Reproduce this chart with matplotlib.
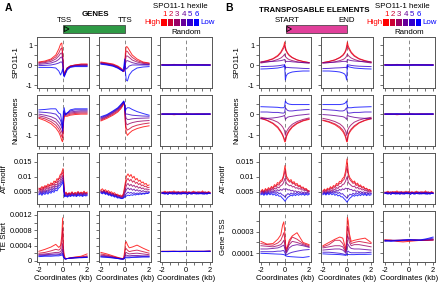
import numpy as np
import matplotlib
matplotlib.use('Agg')
import matplotlib.pyplot as plt
from matplotlib.patches import Rectangle, Polygon

plt.rcParams['font.family'] = ['Liberation Sans', 'DejaVu Sans']

# --- x bins (kb) ---
xs = [-2, -1.5, -1, -0.6, -0.35, -0.2, -0.1, -0.03, 0.03, 0.1, 0.2, 0.35, 0.6, 1, 1.5, 2]
xn = np.linspace(-2, 2, 33)   # finer bins for AT-motif
xr = [-2, -1.5, -1, -0.5, 0, 0.5, 1, 1.5, 2]

# --- A: genes (hexile 1 .. 6) ---
sp_tss = [
    [0.15, 0.2, 0.3, 0.5, 0.8, 1.05, 1.1, 0.6, -0.2, -0.45, -0.3, -0.15, -0.05, 0.0, 0.05, 0.05],
    [0.12, 0.16, 0.25, 0.4, 0.6, 0.8, 0.85, 0.5, -0.2, -0.5, -0.35, -0.15, -0.05, 0.0, 0.03, 0.03],
    [0.08, 0.12, 0.18, 0.3, 0.45, 0.58, 0.6, 0.35, -0.25, -0.5, -0.35, -0.15, -0.07, -0.02, 0.0, 0.0],
    [0.03, 0.06, 0.1, 0.18, 0.28, 0.38, 0.4, 0.25, -0.3, -0.55, -0.4, -0.18, -0.08, -0.04, -0.02, -0.02],
    [-0.03, -0.02, 0.0, 0.05, 0.1, 0.15, 0.15, 0.05, -0.35, -0.55, -0.4, -0.2, -0.1, -0.05, -0.05, -0.05],
    [-0.12, -0.12, -0.12, -0.15, -0.3, -0.5, -0.35, -0.2, -0.45, -0.6, -0.45, -0.25, -0.12, -0.08, -0.08, -0.08],
]
sp_tts = [
    [0.15, 0.1, 0.05, -0.05, -0.15, -0.25, -0.3, -0.2, 0.6, 0.92, 0.9, 0.75, 0.5, 0.3, 0.15, 0.1],
    [0.12, 0.08, 0.02, -0.08, -0.18, -0.28, -0.32, -0.15, 0.4, 0.7, 0.68, 0.55, 0.38, 0.22, 0.12, 0.08],
    [0.1, 0.06, 0.0, -0.1, -0.2, -0.3, -0.33, -0.1, 0.2, 0.45, 0.45, 0.38, 0.25, 0.15, 0.08, 0.05],
    [0.08, 0.04, -0.02, -0.12, -0.22, -0.3, -0.32, 0.0, 0.05, 0.2, 0.22, 0.18, 0.12, 0.06, 0.03, 0.02],
    [0.06, 0.02, -0.04, -0.14, -0.24, -0.3, -0.25, 0.1, -0.1, -0.2, -0.15, -0.05, 0.0, 0.0, 0.0, 0.0],
    [0.04, 0.0, -0.06, -0.16, -0.25, -0.3, -0.1, 0.3, -0.3, -0.75, -0.8, -0.5, -0.3, -0.15, -0.1, -0.08],
]
nu_tss = [
    [-0.2, -0.3, -0.45, -0.65, -0.85, -1.05, -1.25, -1.3, -0.5, -0.1, -0.1, -0.1, -0.05, -0.02, 0.0, 0.0],
    [-0.15, -0.22, -0.35, -0.52, -0.7, -0.88, -1.05, -1.1, -0.4, -0.05, -0.05, -0.05, 0.0, 0.03, 0.05, 0.05],
    [-0.08, -0.14, -0.25, -0.38, -0.55, -0.7, -0.85, -0.9, -0.3, 0.0, -0.02, 0.0, 0.05, 0.08, 0.1, 0.1],
    [0.0, -0.05, -0.12, -0.22, -0.38, -0.5, -0.65, -0.72, -0.2, 0.05, 0.0, 0.05, 0.1, 0.13, 0.15, 0.15],
    [0.1, 0.08, 0.05, 0.0, -0.15, -0.3, -0.5, -0.6, -0.1, 0.15, 0.0, 0.05, 0.15, 0.2, 0.2, 0.2],
    [0.2, 0.22, 0.25, 0.25, 0.05, 0.0, -0.4, -0.8, 0.1, 0.3, -0.05, 0.05, 0.2, 0.25, 0.25, 0.25],
]
nu_tts = [
    [-0.32, -0.2, -0.05, 0.1, 0.25, 0.38, 0.48, 0.45, -0.5, -0.85, -1.0, -0.9, -0.78, -0.68, -0.6, -0.55],
    [-0.28, -0.15, 0.0, 0.15, 0.3, 0.42, 0.52, 0.45, -0.35, -0.65, -0.75, -0.7, -0.6, -0.52, -0.46, -0.42],
    [-0.24, -0.12, 0.05, 0.2, 0.34, 0.45, 0.55, 0.45, -0.2, -0.45, -0.5, -0.45, -0.4, -0.35, -0.32, -0.3],
    [-0.2, -0.08, 0.08, 0.24, 0.38, 0.5, 0.58, 0.45, -0.05, -0.2, -0.25, -0.25, -0.22, -0.2, -0.19, -0.18],
    [-0.16, -0.05, 0.12, 0.27, 0.42, 0.52, 0.6, 0.45, 0.05, 0.0, 0.0, -0.02, -0.05, -0.07, -0.09, -0.1],
    [-0.12, -0.02, 0.15, 0.3, 0.45, 0.55, 0.62, 0.4, 0.15, 0.25, 0.3, 0.3, 0.22, 0.12, 0.03, -0.05],
]
# AT-motif, units of 1e-3
at_tss = [
    [6.2, 5.6, 6.8, 6.0, 7.1, 6.5, 7.6, 6.9, 8.0, 7.4, 8.6, 8.1, 9.4, 9.0, 10.6, 11.2, 12.8,
     4.3, 4.9, 4.1, 4.7, 4.4, 5.0, 4.2, 4.8, 4.5, 5.1, 4.4, 4.9, 4.6, 5.2, 4.5, 4.9],
    [5.8, 6.3, 5.5, 6.6, 6.1, 7.0, 6.4, 7.3, 6.9, 7.8, 7.2, 8.4, 8.0, 9.3, 9.6, 10.8, 11.5,
     4.0, 4.6, 4.2, 4.5, 4.1, 4.8, 4.3, 4.6, 4.2, 4.9, 4.4, 4.7, 4.3, 4.8, 4.5, 4.6],
    [5.2, 5.7, 5.0, 5.9, 5.4, 6.3, 5.8, 6.5, 6.2, 7.0, 6.6, 7.5, 7.3, 8.4, 8.8, 9.9, 10.5,
     3.8, 4.3, 3.9, 4.4, 4.0, 4.5, 4.1, 4.4, 4.0, 4.6, 4.2, 4.5, 4.1, 4.6, 4.3, 4.4],
    [4.8, 5.2, 4.6, 5.4, 4.9, 5.6, 5.2, 6.0, 5.6, 6.4, 6.0, 6.9, 6.6, 7.6, 8.0, 9.0, 9.8,
     3.6, 4.0, 3.7, 4.2, 3.8, 4.3, 3.9, 4.2, 3.8, 4.4, 4.0, 4.3, 3.9, 4.4, 4.1, 4.2],
    [4.3, 4.8, 4.2, 5.0, 4.5, 5.2, 4.7, 5.4, 5.0, 5.8, 5.4, 6.2, 6.0, 7.0, 7.3, 8.2, 9.0,
     3.5, 3.8, 3.4, 3.9, 3.6, 4.0, 3.7, 4.0, 3.6, 4.1, 3.8, 4.0, 3.7, 4.1, 3.8, 4.0],
    [4.0, 4.4, 3.8, 4.5, 4.1, 4.7, 4.2, 4.9, 4.5, 5.2, 4.8, 5.6, 5.3, 6.2, 6.6, 7.4, 8.3,
     3.3, 3.6, 3.2, 3.7, 3.4, 3.8, 3.5, 3.7, 3.4, 3.9, 3.5, 3.8, 3.4, 3.8, 3.6, 3.7],
]
at_tts = [
    [5.6, 6.0, 5.3, 5.7, 5.0, 5.4, 4.7, 5.0, 4.4, 4.7, 4.0, 4.2, 3.7, 3.9, 3.5, 4.5, 7.5,
     10.2, 11.0, 10.1, 10.8, 9.6, 10.2, 9.0, 9.5, 8.5, 8.9, 8.0, 8.3, 7.5, 7.8, 7.0, 7.3],
    [5.4, 5.1, 5.5, 4.9, 5.2, 4.6, 4.9, 4.3, 4.5, 4.0, 4.2, 3.7, 3.8, 3.5, 3.4, 4.0, 6.5,
     8.8, 9.5, 8.6, 9.2, 8.2, 8.7, 7.8, 8.2, 7.4, 7.8, 7.0, 7.3, 6.7, 6.9, 6.3, 6.5],
    [5.2, 4.9, 5.3, 4.7, 5.0, 4.4, 4.6, 4.1, 4.3, 3.8, 4.0, 3.5, 3.6, 3.3, 3.2, 3.6, 5.5,
     7.2, 7.8, 7.0, 7.5, 6.8, 7.2, 6.5, 6.9, 6.2, 6.6, 6.0, 6.3, 5.8, 6.0, 5.6, 5.8],
    [5.0, 4.7, 5.1, 4.5, 4.8, 4.2, 4.4, 3.9, 4.1, 3.6, 3.8, 3.3, 3.4, 3.1, 3.0, 3.3, 4.6,
     5.8, 6.3, 5.7, 6.1, 5.5, 5.9, 5.3, 5.7, 5.2, 5.5, 5.0, 5.4, 5.0, 5.2, 4.9, 5.1],
    [4.8, 4.5, 4.9, 4.3, 4.6, 4.0, 4.2, 3.7, 3.9, 3.4, 3.6, 3.1, 3.2, 2.9, 2.8, 3.0, 3.8,
     4.4, 4.9, 4.5, 4.8, 4.4, 4.7, 4.3, 4.6, 4.4, 4.7, 4.3, 4.6, 4.4, 4.7, 4.5, 4.7],
    [4.6, 4.3, 4.7, 4.1, 4.4, 3.8, 4.0, 3.5, 3.7, 3.2, 3.4, 2.9, 3.0, 2.8, 2.7, 2.9, 3.3,
     3.6, 3.9, 3.7, 4.0, 3.8, 4.1, 3.9, 4.2, 4.0, 4.3, 4.1, 4.4, 4.2, 4.5, 4.4, 4.7],
]
# TE start density, units of 1e-4
te_tss = [
    [2.5, 3.0, 3.6, 4.3, 3.5, 4.0, 6.5, 11.2, 3.5, 1.5, 0.6, 0.6, 0.8, 1.0, 1.2, 1.8],
    [2.0, 2.2, 2.6, 3.0, 2.8, 3.2, 5.0, 8.5, 2.5, 1.0, 0.5, 0.6, 0.7, 0.9, 1.0, 1.3],
    [1.7, 1.8, 2.0, 2.2, 2.2, 2.4, 3.0, 4.5, 2.0, 0.8, 0.5, 0.6, 0.7, 0.8, 0.9, 1.1],
    [1.5, 1.6, 1.7, 1.8, 1.8, 1.9, 2.2, 3.0, 1.5, 0.7, 0.5, 0.6, 0.7, 0.8, 0.9, 1.0],
    [1.3, 1.4, 1.5, 1.5, 1.6, 1.7, 1.8, 2.0, 1.2, 0.6, 0.5, 0.6, 0.7, 0.8, 0.9, 0.9],
    [1.1, 1.2, 1.2, 1.3, 1.3, 1.4, 1.5, 1.6, 1.0, 0.6, 0.5, 0.6, 0.7, 0.8, 0.8, 0.9],
]
te_tts = [
    [2.2, 1.8, 1.3, 0.9, 0.7, 0.6, 0.8, 2.5, 4.6, 5.0, 4.2, 3.4, 3.6, 4.1, 3.3, 2.6],
    [1.8, 1.5, 1.1, 0.8, 0.6, 0.55, 0.7, 1.8, 3.0, 3.2, 2.8, 2.4, 2.6, 2.8, 2.4, 2.0],
    [1.5, 1.3, 1.0, 0.7, 0.55, 0.5, 0.6, 1.2, 2.0, 2.2, 2.0, 1.8, 1.9, 2.0, 1.8, 1.6],
    [1.3, 1.1, 0.9, 0.65, 0.5, 0.45, 0.55, 0.9, 1.4, 1.5, 1.4, 1.3, 1.4, 1.4, 1.3, 1.3],
    [1.1, 1.0, 0.8, 0.6, 0.5, 0.45, 0.5, 0.7, 1.0, 1.0, 1.0, 1.0, 1.0, 1.1, 1.1, 1.1],
    [1.0, 0.9, 0.75, 0.6, 0.5, 0.45, 0.5, 0.6, 0.8, 0.8, 0.8, 0.8, 0.9, 0.9, 1.0, 1.0],
]

# --- B: transposable elements ---
sp_start = [
    [0.15, 0.22, 0.32, 0.48, 0.65, 0.82, 0.95, 1.15, 0.9, 0.75, 0.62, 0.5, 0.38, 0.26, 0.18, 0.12],
    [0.13, 0.2, 0.3, 0.44, 0.6, 0.75, 0.85, 1.0, 0.8, 0.7, 0.58, 0.47, 0.36, 0.25, 0.17, 0.12],
    [0.1, 0.15, 0.2, 0.28, 0.35, 0.42, 0.48, 0.55, 0.42, 0.38, 0.32, 0.27, 0.22, 0.16, 0.12, 0.1],
    [0.15, 0.16, 0.18, 0.2, 0.22, 0.24, 0.26, 0.28, 0.15, 0.18, 0.18, 0.18, 0.16, 0.14, 0.12, 0.1],
    [-0.08, -0.07, -0.06, -0.04, -0.02, 0.0, 0.0, 0.02, -0.15, -0.12, -0.12, -0.13, -0.14, -0.15, -0.17, -0.18],
    [-0.2, -0.19, -0.17, -0.15, -0.12, -0.1, -0.08, 0.0, -0.75, -0.55, -0.45, -0.4, -0.35, -0.32, -0.3, -0.3],
]
sp_end = [
    [0.12, 0.18, 0.26, 0.38, 0.5, 0.62, 0.75, 0.95, 1.15, 0.95, 0.82, 0.65, 0.48, 0.32, 0.22, 0.15],
    [0.12, 0.17, 0.25, 0.36, 0.47, 0.58, 0.7, 0.85, 1.0, 0.85, 0.75, 0.6, 0.44, 0.3, 0.2, 0.13],
    [0.1, 0.12, 0.16, 0.22, 0.27, 0.32, 0.38, 0.45, 0.55, 0.48, 0.42, 0.35, 0.28, 0.2, 0.15, 0.1],
    [0.1, 0.12, 0.14, 0.16, 0.18, 0.18, 0.18, 0.15, 0.28, 0.26, 0.24, 0.22, 0.2, 0.18, 0.16, 0.15],
    [-0.18, -0.17, -0.15, -0.14, -0.13, -0.12, -0.12, -0.15, 0.02, 0.0, 0.0, -0.02, -0.04, -0.06, -0.07, -0.08],
    [-0.3, -0.3, -0.32, -0.35, -0.4, -0.45, -0.55, -0.75, 0.0, -0.08, -0.1, -0.12, -0.15, -0.17, -0.19, -0.2],
]
nu_start = [
    [-0.2, -0.3, -0.45, -0.65, -0.85, -1.0, -1.15, -1.3, -1.3, -1.1, -0.95, -0.8, -0.62, -0.45, -0.32, -0.25],
    [-0.2, -0.28, -0.42, -0.6, -0.8, -0.95, -1.1, -1.2, -1.25, -1.05, -0.9, -0.75, -0.58, -0.42, -0.3, -0.22],
    [-0.15, -0.2, -0.28, -0.38, -0.5, -0.6, -0.7, -0.8, -1.0, -0.85, -0.75, -0.62, -0.48, -0.35, -0.25, -0.18],
    [-0.22, -0.2, -0.18, -0.15, -0.12, -0.1, -0.08, -0.05, -0.25, -0.2, -0.15, -0.12, -0.1, -0.06, -0.03, 0.0],
    [0.1, 0.1, 0.08, 0.08, 0.06, 0.05, 0.05, 0.08, 0.3, 0.25, 0.18, 0.15, 0.15, 0.18, 0.2, 0.22],
    [0.35, 0.34, 0.33, 0.32, 0.3, 0.3, 0.3, 0.35, 0.62, 0.55, 0.5, 0.47, 0.45, 0.45, 0.45, 0.45],
]
nu_end = [
    [-0.3, -0.38, -0.5, -0.66, -0.82, -0.98, -1.12, -1.3, -1.3, -1.0, -0.88, -0.75, -0.6, -0.42, -0.3, -0.22],
    [-0.28, -0.35, -0.46, -0.6, -0.75, -0.9, -1.05, -1.25, -1.2, -0.95, -0.82, -0.7, -0.55, -0.4, -0.28, -0.2],
    [-0.2, -0.26, -0.35, -0.46, -0.58, -0.7, -0.82, -1.0, -0.8, -0.7, -0.6, -0.5, -0.38, -0.28, -0.2, -0.15],
    [-0.02, -0.04, -0.07, -0.1, -0.12, -0.15, -0.2, -0.25, -0.05, -0.08, -0.1, -0.12, -0.15, -0.18, -0.2, -0.22],
    [0.22, 0.2, 0.18, 0.15, 0.15, 0.18, 0.25, 0.3, 0.08, 0.05, 0.05, 0.06, 0.08, 0.08, 0.1, 0.1],
    [0.45, 0.45, 0.45, 0.45, 0.47, 0.5, 0.55, 0.62, 0.35, 0.3, 0.3, 0.3, 0.32, 0.33, 0.34, 0.35],
]
at_start = [
    [5.2, 5.8, 5.0, 6.1, 5.5, 6.4, 5.9, 6.8, 6.3, 7.4, 7.0, 8.1, 7.8, 8.8, 9.0, 10.5, 13.8,
     10.2, 9.4, 8.6, 9.1, 8.0, 8.4, 7.5, 7.8, 6.9, 7.2, 6.4, 6.6, 5.9, 6.1, 5.5, 5.3],
    [5.0, 5.4, 4.9, 5.7, 5.3, 6.0, 5.6, 6.4, 6.0, 6.9, 6.6, 7.5, 7.2, 8.2, 8.5, 9.8, 12.0,
     9.4, 8.8, 8.2, 8.5, 7.6, 7.9, 7.1, 7.3, 6.6, 6.8, 6.1, 6.3, 5.7, 5.9, 5.3, 5.2],
    [4.8, 5.2, 4.6, 5.3, 4.9, 5.6, 5.2, 5.9, 5.5, 6.2, 5.9, 6.6, 6.3, 7.0, 7.3, 8.0, 9.5,
     7.8, 7.4, 7.0, 7.2, 6.6, 6.8, 6.2, 6.4, 5.9, 6.1, 5.6, 5.7, 5.3, 5.5, 5.0, 5.1],
    [4.5, 4.9, 4.4, 5.0, 4.6, 5.2, 4.8, 5.3, 4.9, 5.5, 5.1, 5.7, 5.3, 5.8, 5.5, 6.0, 5.8,
     6.0, 5.6, 5.7, 5.3, 5.5, 5.1, 5.3, 4.9, 5.1, 4.8, 5.0, 4.7, 4.9, 4.6, 4.8, 4.6],
    [4.3, 4.6, 4.1, 4.7, 4.3, 4.8, 4.4, 4.9, 4.5, 5.0, 4.4, 4.9, 4.3, 4.6, 4.0, 3.8, 3.2,
     3.9, 4.4, 4.0, 4.6, 4.2, 4.7, 4.3, 4.8, 4.4, 4.7, 4.3, 4.6, 4.2, 4.6, 4.3, 4.4],
    [4.0, 4.3, 3.8, 4.4, 3.9, 4.5, 4.0, 4.4, 3.9, 4.3, 3.7, 4.1, 3.5, 3.6, 3.0, 2.5, 1.8,
     2.6, 3.2, 3.5, 3.9, 3.6, 4.1, 3.7, 4.2, 3.8, 4.2, 3.9, 4.3, 3.8, 4.2, 3.9, 4.1],
]
at_end = [
    [5.3, 5.9, 5.4, 6.2, 5.8, 6.7, 6.2, 7.1, 6.8, 7.8, 7.5, 8.5, 8.4, 9.4, 9.9, 11.8, 16.0,
     11.0, 9.6, 9.0, 8.2, 8.6, 7.5, 7.9, 7.0, 7.3, 6.5, 6.8, 6.0, 6.2, 5.6, 5.8, 5.3],
    [5.1, 5.6, 5.1, 5.8, 5.5, 6.3, 5.9, 6.7, 6.4, 7.3, 7.0, 7.9, 7.8, 8.7, 9.1, 10.6, 13.5,
     10.0, 9.0, 8.4, 7.8, 8.1, 7.1, 7.4, 6.6, 6.9, 6.2, 6.4, 5.8, 6.0, 5.4, 5.6, 5.2],
    [4.8, 5.2, 4.7, 5.4, 5.0, 5.7, 5.3, 6.0, 5.7, 6.4, 6.1, 6.8, 6.7, 7.4, 7.6, 8.5, 10.0,
     8.0, 7.5, 7.0, 6.7, 6.9, 6.2, 6.5, 5.9, 6.1, 5.6, 5.8, 5.3, 5.5, 5.0, 5.2, 4.9],
    [4.5, 4.9, 4.4, 5.0, 4.6, 5.2, 4.8, 5.4, 5.0, 5.6, 5.2, 5.8, 5.5, 6.0, 5.7, 6.2, 6.0,
     6.1, 5.7, 5.8, 5.3, 5.6, 5.1, 5.3, 4.9, 5.1, 4.7, 5.0, 4.6, 4.9, 4.5, 4.7, 4.5],
    [4.3, 4.7, 4.2, 4.8, 4.4, 4.9, 4.5, 5.0, 4.5, 5.0, 4.4, 4.8, 4.2, 4.4, 3.8, 3.4, 2.8,
     3.6, 4.2, 3.9, 4.5, 4.1, 4.7, 4.3, 4.8, 4.3, 4.7, 4.2, 4.6, 4.1, 4.5, 4.2, 4.4],
    [4.0, 4.4, 3.9, 4.5, 4.0, 4.5, 4.0, 4.4, 3.8, 4.2, 3.6, 3.9, 3.3, 3.3, 2.7, 2.2, 1.5,
     2.3, 2.9, 3.3, 3.8, 3.5, 4.0, 3.6, 4.1, 3.7, 4.2, 3.8, 4.2, 3.7, 4.1, 3.8, 4.0],
]
gt_start = [
    [2.1, 1.85, 1.9, 2.3, 2.7, 3.6, 3.9, 3.1, 2.0, 1.4, 1.6, 2.2, 2.6, 2.9, 2.0, 1.8],
    [1.9, 1.8, 1.75, 1.95, 2.2, 2.6, 2.9, 2.4, 1.6, 1.2, 1.5, 2.0, 2.5, 2.3, 1.9, 1.7],
    [1.7, 1.65, 1.6, 1.7, 1.8, 2.0, 2.2, 1.9, 1.4, 1.1, 1.4, 1.8, 2.1, 2.0, 1.8, 1.6],
    [1.4, 1.4, 1.45, 1.5, 1.6, 1.7, 1.75, 1.5, 1.2, 1.0, 1.2, 1.5, 1.7, 1.8, 1.7, 1.55],
    [1.15, 1.15, 1.15, 1.2, 1.2, 1.25, 1.25, 1.1, 0.95, 0.85, 0.9, 1.0, 1.1, 1.2, 1.3, 1.35],
    [1.0, 0.98, 0.95, 0.93, 0.92, 0.9, 0.88, 0.85, 0.8, 0.75, 0.72, 0.7, 0.68, 0.65, 0.62, 0.7],
]
gt_end = [
    [1.7, 2.0, 2.3, 2.5, 2.4, 1.8, 1.3, 2.5, 4.3, 4.0, 2.8, 2.1, 2.2, 2.3, 2.4, 2.0],
    [1.6, 1.8, 2.2, 2.2, 1.9, 1.5, 1.2, 2.0, 3.5, 3.3, 2.4, 1.9, 2.0, 2.1, 2.0, 1.9],
    [1.5, 1.6, 1.7, 1.7, 1.6, 1.3, 1.1, 1.6, 2.6, 2.5, 2.0, 1.7, 1.8, 1.8, 1.7, 1.6],
    [1.3, 1.35, 1.4, 1.4, 1.3, 1.15, 1.0, 1.3, 1.9, 1.8, 1.6, 1.45, 1.4, 1.4, 1.35, 1.3],
    [1.1, 1.1, 1.05, 1.0, 0.95, 0.9, 0.85, 0.95, 1.2, 1.2, 1.1, 1.05, 1.05, 1.05, 1.05, 1.1],
    [0.95, 0.92, 0.9, 0.88, 0.85, 0.83, 0.82, 0.85, 0.9, 0.9, 0.88, 0.88, 0.88, 0.9, 0.9, 0.92],
]

# --- random control regions ---
sp_rand = [
    [0.02, 0.0, 0.03, 0.01, 0.0, 0.02, -0.01, 0.02, 0.0],
    [0.0, 0.01, 0.0, 0.02, 0.01, 0.0, 0.01, 0.0, 0.01],
    [0.01, 0.0, 0.01, 0.0, 0.0, 0.01, 0.0, 0.01, 0.0],
    [0.0, 0.0, -0.01, 0.0, 0.01, 0.0, 0.0, 0.0, 0.0],
    [-0.01, 0.0, 0.0, -0.01, 0.0, 0.0, 0.01, 0.0, -0.01],
    [0.0, -0.01, 0.0, 0.0, -0.01, 0.0, 0.0, -0.01, 0.0],
]
nu_rand = [
    [-0.02, 0.01, -0.03, 0.0, 0.02, -0.01, 0.01, -0.02, 0.0],
    [0.0, -0.01, 0.0, 0.01, 0.0, -0.01, 0.0, 0.01, -0.01],
    [0.01, 0.0, 0.0, -0.01, 0.0, 0.01, 0.0, 0.0, 0.01],
    [0.0, 0.01, 0.0, 0.0, -0.01, 0.0, 0.01, 0.0, 0.0],
    [0.01, 0.0, 0.01, 0.0, 0.0, 0.0, -0.01, 0.01, 0.0],
    [0.0, 0.0, 0.01, 0.0, 0.01, 0.0, 0.0, 0.0, 0.01],
]
at_rand = [
    [4.9, 4.5, 5.2, 4.7, 5.0, 4.4, 5.1, 4.8, 5.3, 4.6, 4.9, 4.3, 5.0, 4.7, 5.2, 4.5, 4.9,
     4.6, 5.1, 4.4, 4.8, 5.2, 4.6, 4.9, 4.4, 5.0, 4.7, 5.3, 4.5, 4.8, 4.6, 5.1, 4.7],
    [4.6, 5.0, 4.4, 4.9, 4.5, 5.1, 4.6, 4.8, 4.4, 5.0, 4.7, 5.1, 4.5, 4.9, 4.4, 4.8, 5.1,
     4.5, 4.8, 4.6, 5.0, 4.4, 4.9, 4.6, 5.1, 4.5, 4.9, 4.6, 5.0, 4.4, 4.9, 4.6, 4.8],
    [4.8, 4.4, 4.9, 4.5, 4.8, 4.6, 4.4, 5.0, 4.6, 4.5, 5.0, 4.6, 4.8, 4.3, 4.7, 5.0, 4.5,
     4.9, 4.4, 4.9, 4.5, 4.7, 5.0, 4.4, 4.7, 4.8, 4.4, 4.8, 4.7, 5.0, 4.4, 4.8, 4.5],
    [4.5, 4.8, 4.3, 4.7, 4.9, 4.4, 4.7, 4.3, 4.8, 4.6, 4.3, 4.8, 4.5, 4.9, 4.4, 4.6, 4.3,
     4.8, 4.6, 4.3, 4.7, 4.5, 4.3, 4.8, 4.4, 4.6, 4.9, 4.4, 4.6, 4.3, 4.7, 4.4, 4.6],
    [4.7, 4.3, 4.6, 4.4, 4.2, 4.7, 4.5, 4.2, 4.6, 4.3, 4.7, 4.4, 4.2, 4.6, 4.3, 4.7, 4.4,
     4.2, 4.5, 4.7, 4.3, 4.6, 4.4, 4.2, 4.6, 4.3, 4.5, 4.2, 4.7, 4.4, 4.3, 4.6, 4.4],
    [4.4, 4.7, 4.2, 4.5, 4.1, 4.6, 4.3, 4.7, 4.2, 4.5, 4.1, 4.6, 4.4, 4.2, 4.7, 4.3, 4.5,
     4.1, 4.6, 4.3, 4.2, 4.6, 4.4, 4.7, 4.2, 4.5, 4.3, 4.6, 4.1, 4.5, 4.2, 4.6, 4.4],
]
te_rand = [
    [2.5, 2.45, 2.5, 2.4, 2.45, 2.5, 2.45, 2.5, 2.55],
    [2.45, 2.5, 2.45, 2.45, 2.5, 2.45, 2.5, 2.45, 2.5],
    [2.45, 2.45, 2.5, 2.45, 2.45, 2.45, 2.5, 2.45, 2.45],
    [2.45, 2.45, 2.45, 2.5, 2.45, 2.45, 2.45, 2.45, 2.5],
    [2.4, 2.45, 2.45, 2.45, 2.45, 2.5, 2.45, 2.45, 2.5],
    [2.45, 2.4, 2.45, 2.45, 2.5, 2.45, 2.45, 2.5, 2.5],
]
gt_rand = [
    [2.25, 2.2, 2.1, 2.05, 2.1, 2.15, 2.2, 2.2, 2.25],
    [2.2, 2.2, 2.15, 2.15, 2.2, 2.2, 2.2, 2.2, 2.25],
    [2.2, 2.2, 2.2, 2.2, 2.2, 2.25, 2.2, 2.2, 2.2],
    [2.15, 2.2, 2.2, 2.25, 2.25, 2.2, 2.2, 2.25, 2.3],
    [2.1, 2.15, 2.2, 2.2, 2.25, 2.25, 2.2, 2.3, 2.4],
    [2.2, 2.1, 2.15, 2.2, 2.25, 2.2, 2.25, 2.35, 2.5],
]

hexile_colors = ['#ff0000', '#cc0033', '#990066', '#660099', '#3300cc', '#0000ff']

# --- layout (pixels) ---
W, H = 440, 284
cols_a = [37, 99, 160]
cols_b = [259, 321, 383]
rows = [37, 95, 153, 211]
pw, ph = 52, 51

fig = plt.figure(figsize=(W / 100, H / 100), dpi=100)


def make_ax(xp, yp):
    ax = fig.add_axes([xp / W, 1 - (yp + ph) / H, pw / W, ph / H])
    ax.set_xlim(-2.16, 2.16)
    for s in ax.spines.values():
        s.set_color('#555555')
        s.set_linewidth(0.7)
    ax.tick_params(length=2.5, width=0.6, pad=1, labelsize=5.3, color='#555555')
    ax.set_xticks([-2, -1.33, -0.67, 0, 0.67, 1.33, 2])
    ax.set_xticklabels([])
    return ax


def draw(ax, x, lines, scale=1.0):
    ax.axvline(0, color='#808080', ls=(0, (4, 3)), lw=0.65, zorder=1)
    for c, y in zip(hexile_colors, lines):
        ax.plot(x, np.array(y) * scale, color=c, lw=0.7, alpha=0.8, zorder=2)


row_specs = {
    'A': [
        ('SPO11-1', (-1.15, 1.4), [-1, -0.5, 0, 0.5, 1], ['-1', '', '0', '', '1'], -0.33,
         [(xs, sp_tss, 1), (xs, sp_tts, 1), (xr, sp_rand, 1)]),
        ('Nucleosomes', (-1.5, 0.9), [-1, -0.5, 0, 0.5], ['-1', '', '0', ''], -0.33,
         [(xs, nu_tss, 1), (xs, nu_tts, 1), (xr, nu_rand, 1)]),
        ('AT-motif', (0.0009, 0.018), [0.005, 0.01, 0.015], ['0.005', '0.01', '0.015'], -0.56,
         [(xn, at_tss, 1e-3), (xn, at_tts, 1e-3), (xn, at_rand, 1e-3)]),
        ('TE Start', (-0.00003, 0.0013), [0, 0.0002, 0.0004, 0.0006, 0.0008, 0.001, 0.0012],
         ['0', '', '0.0004', '', '0.0008', '', '0.0012'], -0.56,
         [(xs, te_tss, 1e-4), (xs, te_tts, 1e-4), (xr, te_rand, 1e-4)]),
    ],
    'B': [
        ('SPO11-1', (-1.15, 1.4), [-1, -0.5, 0, 0.5, 1], ['-1', '', '0', '', '1'], -0.36,
         [(xs, sp_start, 1), (xs, sp_end, 1), (xr, sp_rand, 1)]),
        ('Nucleosomes', (-1.5, 0.9), [-1, -0.5, 0, 0.5], ['-1', '', '0', ''], -0.36,
         [(xs, nu_start, 1), (xs, nu_end, 1), (xr, nu_rand, 1)]),
        ('AT-motif', (0.0009, 0.018), [0.005, 0.01, 0.015], ['0.005', '0.01', '0.015'], -0.62,
         [(xn, at_start, 1e-3), (xn, at_end, 1e-3), (xn, at_rand, 1e-3)]),
        ('Gene TSS', (0.00002, 0.00049), [0.0001, 0.0002, 0.0003, 0.0004],
         ['0.0001', '', '0.0003', ''], -0.62,
         [(xs, gt_start, 1e-4), (xs, gt_end, 1e-4), (xr, gt_rand, 1e-4)]),
    ],
}

for block, cols in (('A', cols_a), ('B', cols_b)):
    for r, (ylab, ylim, yt, ytl, labx, panels) in enumerate(row_specs[block]):
        for c, (x, lines, scale) in enumerate(panels):
            ax = make_ax(cols[c], rows[r])
            draw(ax, x, lines, scale)
            ax.set_ylim(*ylim)
            ax.set_yticks(yt)
            if c == 0:
                ax.set_yticklabels(ytl)
                ax.set_ylabel(ylab, fontsize=5.7)
                ax.yaxis.set_label_coords(labx, 0.5)
            else:
                ax.set_yticklabels([])
            if r == 3:
                ax.set_xticklabels(['-2', '', '', '0', '', '', '2'])
                ax.set_xlabel('Coordinates (kb)', fontsize=5.7, labelpad=1)

# --- headers, drawn in pixel coordinates ---
ov = fig.add_axes([0, 0, 1, 1])
ov.set_xlim(0, W)
ov.set_ylim(H, 0)
ov.axis('off')

fs = 5.7


def header(tag, tag_x, title, title_x, title_y, left_lab, right_lab, bar_x0, bar_x1,
           bar_color, leg_x0, rand_x):
    ov.text(tag_x, 8, tag, fontsize=7.5, fontweight='bold', ha='center', va='center')
    ov.text(title_x, title_y, title, fontsize=fs, fontweight='bold', ha='center', va='center')
    ov.text(bar_x0 + 1.5, 20.5, left_lab, fontsize=fs, ha='center', va='center')
    ov.text(bar_x1, 20.5, right_lab, fontsize=fs, ha='center', va='center')
    ov.add_patch(Rectangle((bar_x0, 25), bar_x1 - bar_x0, 8, fc=bar_color, ec='#333333', lw=0.5))
    ov.add_patch(Polygon([(bar_x0 + 1.3, 26.4), (bar_x0 + 1.3, 31.6), (bar_x0 + 6, 29)],
                         closed=True, fill=False, ec='black', lw=0.6))
    sq = 6.5
    ov.text(leg_x0 + 3 * sq, 6.5, 'SPO11-1 hexile', fontsize=fs, ha='center', va='center')
    for i, col in enumerate(hexile_colors):
        ov.add_patch(Rectangle((leg_x0 + i * sq, 19), sq - 0.6, 6.5, fc=col, ec='none'))
        ov.text(leg_x0 + i * sq + sq / 2, 14.8, str(i + 1), fontsize=fs, color=col,
                ha='center', va='center')
    ov.text(leg_x0 - 0.8, 22.5, 'High', fontsize=fs, color=hexile_colors[0], ha='right', va='center')
    ov.text(leg_x0 + 6 * sq + 0.5, 22.5, 'Low', fontsize=fs, color=hexile_colors[-1],
            ha='left', va='center')
    ov.text(rand_x, 32, 'Random', fontsize=fs, ha='center', va='center')


header('A', 8, 'GENES', 95.5, 14, 'TSS', 'TTS', 63, 125, '#2e9a45', 161, 186)
header('B', 229, 'TRANSPOSABLE ELEMENTS', 314, 11, 'START', 'END', 285.5, 347, '#e0409a', 383, 409)

fig.savefig('out.png', dpi=100)
